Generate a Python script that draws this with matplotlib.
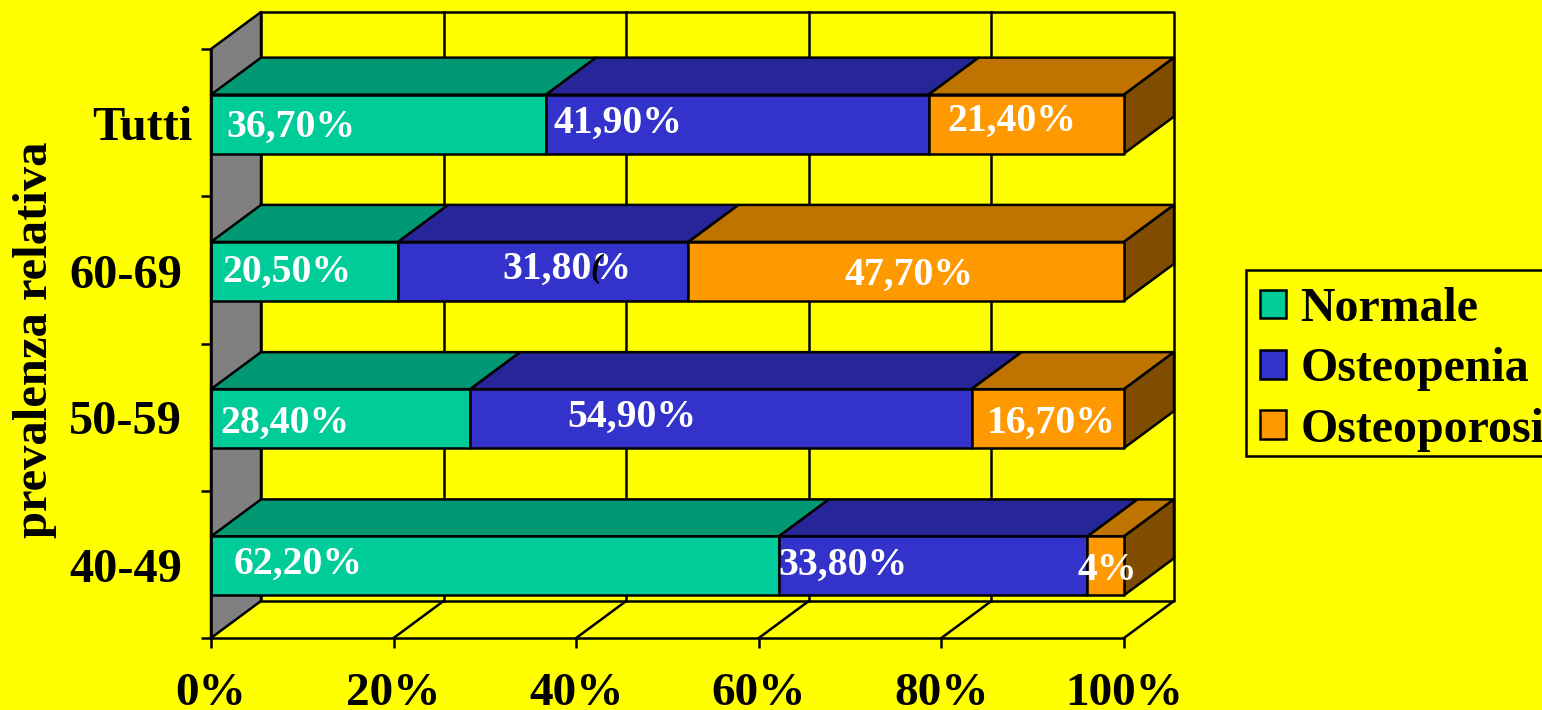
import matplotlib
matplotlib.use('Agg')
import matplotlib.pyplot as plt
from matplotlib.patches import Patch, Polygon, Rectangle

# data
groups = ['40-49', '50-59', '60-69', 'Tutti']
series = ['Normale', 'Osteopenia', 'Osteoporosi']
normale = [62.2, 28.4, 20.5, 36.7]
osteopenia = [33.8, 54.9, 31.8, 41.9]
osteoporosi = [4.0, 16.7, 47.7, 21.4]
value_labels = [
    ['62,20%', '28,40%', '20,50%', '36,70%'],
    ['33,80%', '54,90%', '31,80%', '41,90%'],
    ['4%', '16,70%', '47,70%', '21,40%'],
]
x_ticks = [0, 20, 40, 60, 80, 100]
x_tick_labels = ['0%', '20%', '40%', '60%', '80%', '100%']

# layout, in pixels of the 1542x710 picture
W, H = 1542, 710
LEFT, RIGHT, BOTTOM, TOP = 211, 1124, 638, 49
label_left = [
    [234, 220, 222, 226],
    [778, 567, 502, 553],
    [1078, 987, 844, 947],
]
label_base = [
    [574, 433, 282, 137],
    [575, 427, 279, 133],
    [580, 433, 285, 131],
]
group_right = [182, 182, 182, 192]
group_base = [582, 434, 288, 140]

front = ['#00CC99', '#3333CC', '#FF9900']
top = ['#009973', '#262699', '#BF7300']
side = '#804D00'
YELLOW = '#FFFF00'
LW = 1.8

plt.rcParams['font.family'] = ['Liberation Serif', 'DejaVu Serif']
plt.rcParams['font.weight'] = 'bold'

fig = plt.figure(figsize=(W / 100, H / 100), dpi=100, facecolor=YELLOW)
ax = fig.add_axes([LEFT / W, 1 - BOTTOM / H, (RIGHT - LEFT) / W, (BOTTOM - TOP) / H])
ax.set_facecolor('none')
ax.set_xlim(0, 100)
ax.set_ylim(0, len(groups))

# oblique depth of the fake 3d, in data units
dx = 50 / (RIGHT - LEFT) * 100
dy = 37 / (BOTTOM - TOP) * len(groups)
ymax = len(groups)


def poly(points, color, z=2):
    ax.add_patch(Polygon(points, closed=True, facecolor=color, edgecolor='black',
                         linewidth=LW, clip_on=False, zorder=z, joinstyle='round'))


# back wall and grid
poly([(dx, dy), (100 + dx, dy), (100 + dx, ymax + dy), (dx, ymax + dy)], 'none', 1)
for t in x_ticks[1:-1]:
    ax.plot([t + dx, t + dx], [dy, ymax + dy], color='black', lw=LW, clip_on=False, zorder=1)
# left wall
poly([(0, 0), (dx, dy), (dx, ymax + dy), (0, ymax)], '#808080', 1)
# floor
for t in x_ticks[1:]:
    ax.plot([t, t + dx], [0, dy], color='black', lw=LW, clip_on=False, zorder=1)

# bars
bar_h = 0.4
for i in range(len(groups)):
    y0 = i + 0.29
    y1 = y0 + bar_h
    start = 0
    for j, vals in enumerate([normale, osteopenia, osteoporosi]):
        end = start + vals[i]
        poly([(start, y1), (end, y1), (end + dx, y1 + dy), (start + dx, y1 + dy)], top[j], 3)
        poly([(start, y0), (end, y0), (end, y1), (start, y1)], front[j], 4)
        start = end
    poly([(start, y0), (start + dx, y0 + dy), (start + dx, y1 + dy), (start, y1)], side, 3)

# axes
for s in ['top', 'right']:
    ax.spines[s].set_visible(False)
for s in ['left', 'bottom']:
    ax.spines[s].set_linewidth(LW)
    ax.spines[s].set_zorder(5)
ax.set_xticks(x_ticks)
ax.set_xticklabels(x_tick_labels, fontsize=34, fontweight='bold')
ax.set_yticks(range(len(groups) + 1))
ax.set_yticklabels([])
ax.tick_params(axis='both', length=7, width=LW, color='black')
ax.tick_params(axis='x', pad=18)


def px_text(x, y, s, **kw):
    return fig.text(x / W, 1 - y / H, s, va='baseline', fontweight='bold', zorder=10, **kw)


# value labels
for j, row in enumerate(value_labels):
    for i, s in enumerate(row):
        px_text(label_left[j][i], label_base[j][i], s, color='white', fontsize=28.6, ha='left')

# the stray mark over 31,80%
px_text(590, 277, '(', color='black', fontsize=24, style='italic', ha='left')

# category labels
for i, g in enumerate(groups):
    px_text(group_right[i], group_base[i], g, color='black', fontsize=34.8, ha='right')

fig.text(35 / W, 1 - 340 / H, 'prevalenza relativa', rotation=90, ha='center', va='center',
         fontsize=35, fontweight='bold', color='black')

# legend box runs off the right edge like the original
fig.add_artist(Rectangle((1246 / W, 1 - 456 / H), 330 / W, 186 / H, transform=fig.transFigure,
                         facecolor=YELLOW, edgecolor='black', linewidth=LW, zorder=1))
handles = [Patch(facecolor=c, edgecolor='black', linewidth=LW) for c in front]
leg = fig.legend(handles, series, loc='upper left', bbox_to_anchor=(1260 / W, 1 - 287 / H),
                 bbox_transform=fig.transFigure, fontsize=34.5, frameon=False, borderaxespad=0,
                 borderpad=0, handlelength=0.54, handleheight=0.54, handletextpad=0.3,
                 labelspacing=0.34)
leg.set_zorder(5)

fig.savefig('out.png', dpi=100, facecolor=YELLOW)
